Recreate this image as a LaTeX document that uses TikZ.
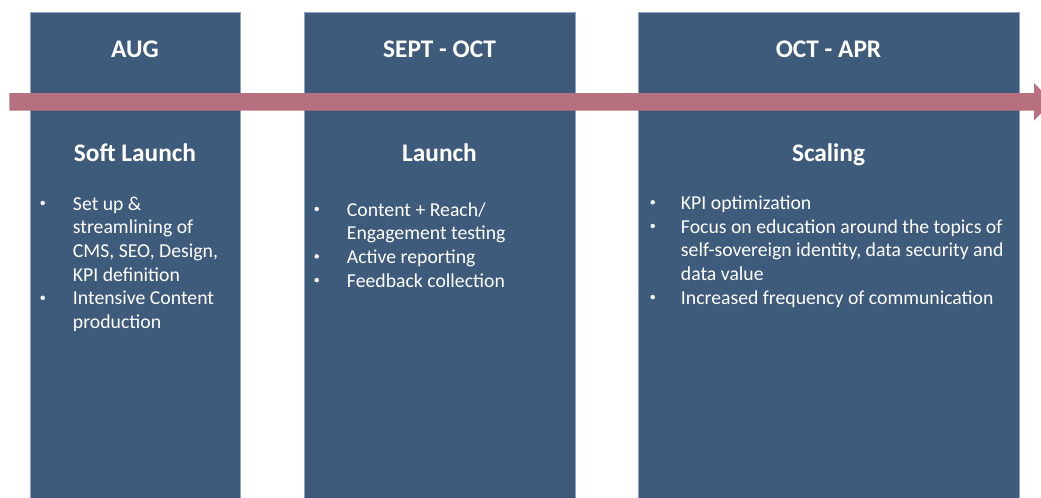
\documentclass[tikz,border=0pt]{standalone}
\usepackage{fontspec}
\setmainfont{Carlito}
\definecolor{boxblue}{HTML}{3F5B7B}
\definecolor{boxedge}{HTML}{8EA2C8}
\definecolor{arrowpink}{HTML}{B6707F}
\begin{document}
\begin{tikzpicture}[x=0.75pt,y=-0.75pt,
  panel/.style={fill=boxblue,draw=boxedge,line width=0.5pt},
  head/.style={anchor=base,inner sep=0pt,text=white,font=\fontsize{19pt}{23pt}\selectfont\bfseries},
  body/.style={anchor=base west,inner sep=0pt,text=white,font=\fontsize{14.8pt}{18pt}\selectfont},
  bul/.style={circle,fill=white!92!boxblue,inner sep=0pt,minimum size=3.4pt},
  band/.style={fill=arrowpink}]
\useasboundingbox (0,0) rectangle (1041,497);
\clip (0,0) rectangle (1041,497);
% columns
\path[panel] (30,12) rectangle (240,505);
\path[panel] (304,12) rectangle (575,505);
\path[panel] (638,12) rectangle (1019,505);
% timeline arrow
\coordinate (as) at (9.3,101.8);
\coordinate (ae) at (1052,101.8);
\fill[band] (as) ++(0,-8.8) -- (1034,93) -- (1034,83) -- (ae) -- (1034,120.6) -- (1034,110.6) -- (9.3,110.6) -- cycle;
% headings
\node[head] (h1) at (135,57.7) {AUG};
\node[head] (h2) at (439.5,57.7) {SEPT - OCT};
\node[head] (h3) at (828.5,57.7) {OCT - APR};
\node[head] (p1) at (135,161) {Soft Launch};
\node[head] (p2) at (439.5,161) {Launch};
\node[head] (p3) at (828.5,161) {Scaling};
% column 1
\node[bul] (b11) at (42.7,203) {};
\node[body] (t11) at (72.7,210) {Set up \&};
\node[body] (t12) at (72.7,233.7) {streamlining of};
\node[body] (t13) at (72.7,257.4) {CMS, SEO, Design,};
\node[body] (t14) at (72.7,281.1) {KPI definition};
\node[bul] (b12) at (42.7,297.8) {};
\node[body] (t15) at (72.7,304.8) {Intensive Content};
\node[body] (t16) at (72.7,328.5) {production};
% column 2
\node[bul] (b21) at (316.7,209) {};
\node[body] (t21) at (346.7,216) {Content + Reach/};
\node[body] (t22) at (346.7,239.7) {Engagement testing};
\node[bul] (b22) at (316.7,256.4) {};
\node[body] (t23) at (346.7,263.4) {Active reporting};
\node[bul] (b23) at (316.7,280.1) {};
\node[body] (t24) at (346.7,287.1) {Feedback collection};
% column 3
\node[bul] (b31) at (652.7,202.3) {};
\node[body] (t31) at (680.7,209.3) {KPI optimization};
\node[bul] (b32) at (652.7,226) {};
\node[body] (t32) at (680.7,233) {Focus on education around the topics of};
\node[body] (t33) at (680.7,256.7) {self-sovereign identity, data security and};
\node[body] (t34) at (680.7,280.4) {data value};
\node[bul] (b33) at (652.7,297.1) {};
\node[body] (t35) at (680.7,304.1) {Increased frequency of communication};
\end{tikzpicture}
\end{document}
